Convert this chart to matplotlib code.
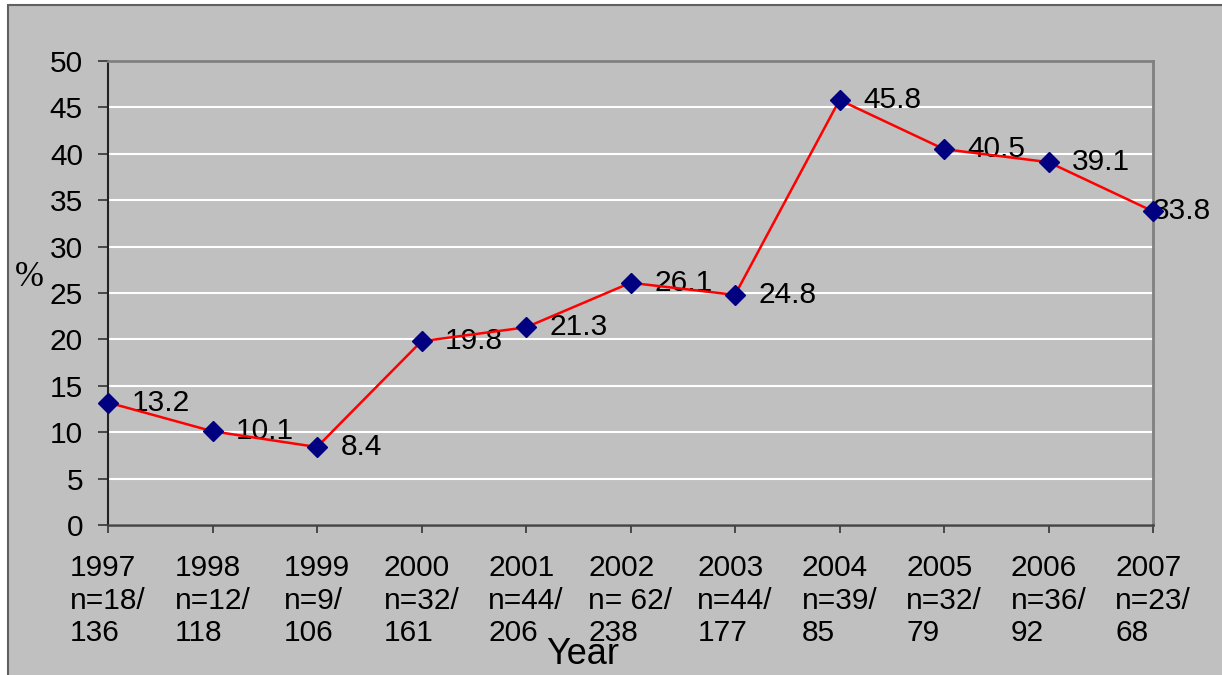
import matplotlib.pyplot as plt
from matplotlib.patches import Rectangle

years = ["1997", "1998", "1999", "2000", "2001", "2002", "2003", "2004", "2005", "2006", "2007"]
counts = ["n=18/\n136", "n=12/\n118", "n=9/\n106", "n=32/\n161", "n=44/\n206", "n= 62/\n238",
          "n=44/\n177", "n=39/\n85", "n=32/\n79", "n=36/\n92", "n=23/\n68"]
percent = [13.2, 10.1, 8.4, 19.8, 21.3, 26.1, 24.8, 45.8, 40.5, 39.1, 33.8]

plt.rcParams['font.family'] = ['Liberation Sans', 'DejaVu Sans']
bg = '#c0c0c0'
fs = 21.5

fig = plt.figure(figsize=(12.22, 6.75), dpi=100, facecolor='white')
# chart area frame
fig.patches.append(Rectangle((8 / 1222, -0.05), 1.1, (670 / 675) + 0.05, transform=fig.transFigure,
                             facecolor=bg, edgecolor='#606060', linewidth=1.5, zorder=-10))

ax = fig.add_axes([108 / 1222, 1 - 525 / 675, 1045 / 1222, 464 / 675])
ax.set_facecolor(bg)

x = list(range(len(years)))
ax.plot(x, percent, color='red', linewidth=1.8, marker='D', markersize=10,
        markerfacecolor='#000080', markeredgecolor='#000080', zorder=4, clip_on=False)

for i, v in enumerate(percent):
    dx = 17 if i < len(percent) - 1 else 0
    ax.annotate(f"{v}", (i, v), xytext=(dx, 0), textcoords='offset points',
                ha='left', va='center', fontsize=fs, color='black', zorder=3)

ax.set_xlim(0, len(years) - 1)
ax.set_ylim(0, 50)
ax.set_yticks(range(0, 51, 5))
ax.set_xticks(x)
ax.set_xticklabels([f"{y}\n{c}" for y, c in zip(years, counts)], multialignment='left',
                   linespacing=1.2)
ax.yaxis.grid(True, color='white', linewidth=1.5)
ax.set_axisbelow(True)

ax.tick_params(axis='y', labelsize=fs, length=7, width=1.2, color='#333333', pad=11)
ax.tick_params(axis='x', labelsize=fs, length=6, width=1.2, color='#333333', pad=15)
ax.spines['left'].set_color('#222222')
ax.spines['bottom'].set_color('#444444')
ax.spines['bottom'].set_linewidth(1.8)
ax.spines['left'].set_linewidth(1.5)
for s in ['top', 'right']:
    ax.spines[s].set_color('#808080')
    ax.spines[s].set_linewidth(2)

fig.text(583 / 1222, 1 - 655 / 675, "Year", fontsize=26, ha='center', va='center')
fig.text(29 / 1222, 1 - 277 / 675, "%", fontsize=25, ha='center', va='center',
         family=['Liberation Serif', 'DejaVu Serif'])

fig.savefig("out.png", dpi=100, facecolor='white')
